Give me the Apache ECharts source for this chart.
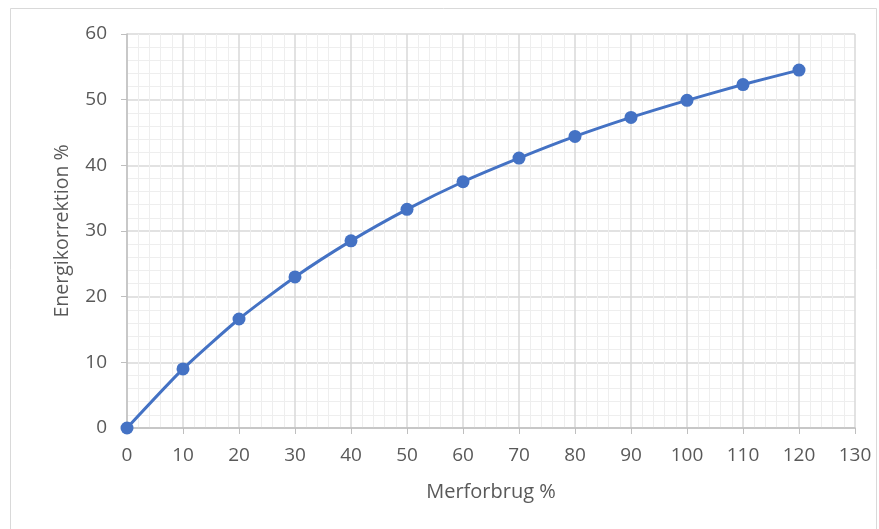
<!DOCTYPE html>
<html><head><meta charset="utf-8">
<script src="https://cdn.jsdelivr.net/npm/echarts@6/dist/echarts.min.js"></script>
<style>html,body{margin:0;padding:0;background:#fff}#c{width:879px;height:529px}</style>
</head><body><div id="c"></div>
<script>
const xValues = [0,10,20,30,40,50,60,70,80,90,100,110,120];
const yValues = [0,9.0,16.6,23.0,28.5,33.3,37.5,41.1,44.4,47.3,49.9,52.3,54.5];
const xName = 'Merforbrug %';
const yName = 'Energikorrektion %';
const chart = echarts.init(document.getElementById('c'));
const ff = 'Open Sans, Noto Sans, sans-serif';
const labelStyle = {color:'#595959', fontSize:19, fontFamily:ff};
chart.setOption({
  animation:false,
  backgroundColor:'#fff',
  graphic:[{type:'rect', shape:{x:10.5,y:8.5,width:866,height:540}, style:{fill:'none', stroke:'#d9d9d9', lineWidth:1}, silent:true}],
  grid:{left:127, right:24, top:34, bottom:101},
  xAxis:{type:'value', min:0, max:130, interval:10,
    name:xName, nameLocation:'middle', nameGap:54, nameTextStyle:{color:'#595959', fontSize:20, fontFamily:ff},
    axisLine:{lineStyle:{color:'#bfbfbf', width:1.5}},
    axisTick:{show:true, length:6, lineStyle:{color:'#bfbfbf'}},
    axisLabel:Object.assign({margin:18}, labelStyle),
    splitLine:{lineStyle:{color:'#d9d9d9', width:1.5}},
    minorTick:{show:false, splitNumber:5},
    minorSplitLine:{show:true, lineStyle:{color:'#eeeeee', width:1}}
  },
  yAxis:{type:'value', min:0, max:60, interval:10,
    name:yName, nameLocation:'middle', nameGap:55, nameTextStyle:{color:'#595959', fontSize:19.5, fontFamily:ff},
    axisLine:{show:true, lineStyle:{color:'#bfbfbf', width:1.5}},
    axisTick:{show:true, length:6, lineStyle:{color:'#bfbfbf'}},
    axisLabel:Object.assign({margin:20}, labelStyle),
    splitLine:{lineStyle:{color:'#d9d9d9', width:1.5}},
    minorTick:{show:false, splitNumber:5},
    minorSplitLine:{show:true, lineStyle:{color:'#eeeeee', width:1}}
  },
  series:[{type:'line', data:xValues.map((x,i)=>[x,yValues[i]]), smooth:0.2,
    symbol:'circle', symbolSize:13,
    lineStyle:{color:'#4472C4', width:3},
    itemStyle:{color:'#4472C4'}
  }]
});
</script></body></html>
